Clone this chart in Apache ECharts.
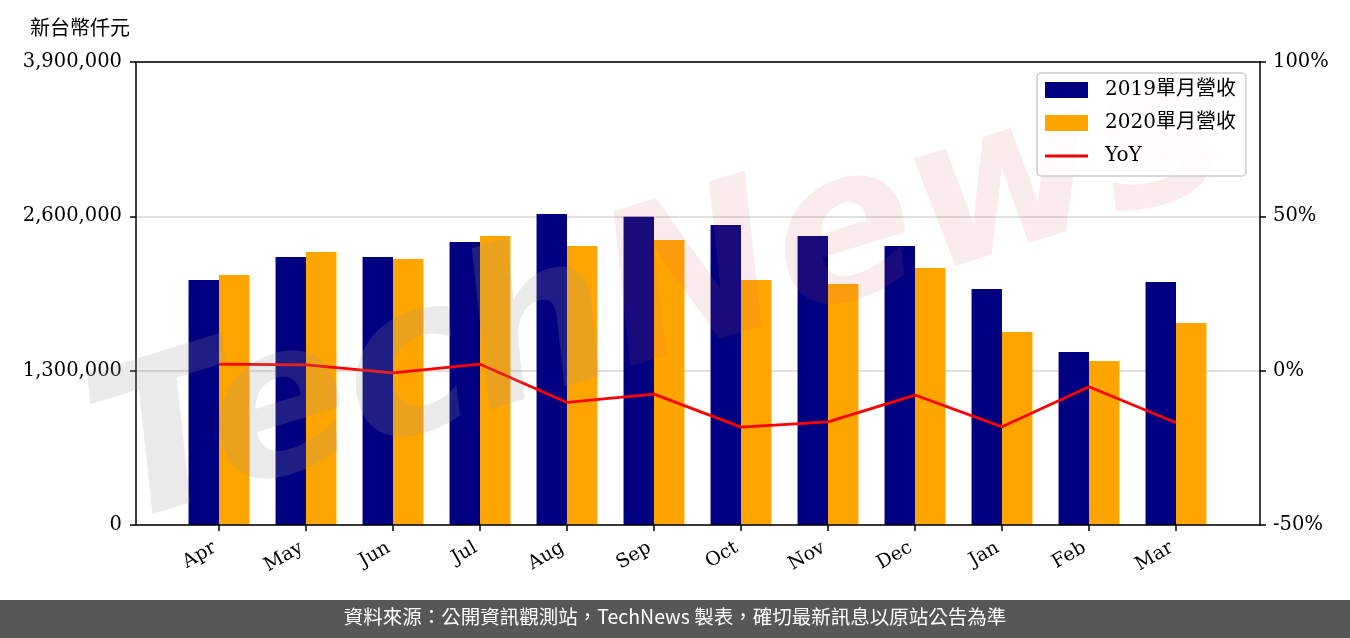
<!DOCTYPE html>
<html>
<head>
<meta charset="utf-8">
<script src="https://cdn.jsdelivr.net/npm/echarts@6/dist/echarts.min.js"></script>
<style>
html,body{margin:0;padding:0;background:#fff;}
#chart{width:1350px;height:638px;}
</style>
</head>
<body>
<div id="chart"></div>
<script>
const months = ['Apr','May','Jun','Jul','Aug','Sep','Oct','Nov','Dec','Jan','Feb','Mar'];
const revenue2019 = [2063000, 2257000, 2257000, 2384000, 2620000, 2597000, 2527000, 2434000, 2350000, 1988000, 1457000, 2047000];
const revenue2020 = [2106000, 2300000, 2240000, 2434000, 2350000, 2400000, 2064000, 2030000, 2165000, 1626000, 1381000, 1701000];
const yoy = [2.1, 1.9, -0.7, 2.1, -10.3, -7.6, -18.3, -16.6, -7.9, -18.2, -5.2, -16.9];
const leftTicks = {min: 0, max: 3900000, interval: 1300000};
const rightTicks = {min: -50, max: 100, interval: 50};

const serif = "'DejaVu Serif', 'Noto Sans CJK TC', serif";
const black = {color: '#000', width: 1.5};
const chart = echarts.init(document.getElementById('chart'), null, {renderer: 'canvas'});
chart.setOption({
  animation: false,
  backgroundColor: '#fff',
  grid: [
    {left: 136, right: 90, top: 62, bottom: 113},
    {left: 175.5, right: 130.5, top: 62, bottom: 113}
  ],
  xAxis: [
    {gridIndex: 0, type: 'value', min: 0, max: 1, position: 'bottom', z: 3,
     axisLine: {show: true, onZero: false, lineStyle: black},
     axisTick: {show: false}, axisLabel: {show: false}, splitLine: {show: false}},
    {gridIndex: 1, type: 'category', data: months,
     axisLine: {show: false},
     axisTick: {show: true, alignWithLabel: true, length: 6, lineStyle: black},
     axisLabel: {rotate: 30, fontSize: 19, fontFamily: serif, color: '#000', margin: 19, padding: [0, 5, 0, 0]}},
    {gridIndex: 0, type: 'value', min: 0, max: 1, position: 'top', z: 3,
     axisLine: {show: true, onZero: false, lineStyle: black},
     axisTick: {show: false}, axisLabel: {show: false}, splitLine: {show: false}}
  ],
  yAxis: [
    {gridIndex: 0, type: 'value', min: leftTicks.min, max: leftTicks.max, interval: leftTicks.interval,
     axisLine: {show: true, onZero: false, lineStyle: black},
     axisTick: {show: true, length: 6, lineStyle: black},
     axisLabel: {fontSize: 19.5, fontFamily: serif, color: '#000', margin: 14,
       formatter: v => v.toLocaleString('en-US')},
     splitLine: {show: true, lineStyle: {color: '#d6d6d6', width: 1.5}}},
    {gridIndex: 0, type: 'value', position: 'right', min: rightTicks.min, max: rightTicks.max, interval: rightTicks.interval,
     axisLine: {show: true, onZero: false, lineStyle: black},
     axisTick: {show: true, length: 6, lineStyle: black},
     axisLabel: {fontSize: 19.5, fontFamily: serif, color: '#000', margin: 13, formatter: v => v + '%'},
     splitLine: {show: false}},
    {gridIndex: 1, type: 'value', min: leftTicks.min, max: leftTicks.max, show: false, splitLine: {show: false}},
    {gridIndex: 1, type: 'value', min: rightTicks.min, max: rightTicks.max, show: false, splitLine: {show: false}}
  ],
  legend: {
    orient: 'vertical', left: 1037, top: 73, z: 20,
    padding: [7, 10, 10, 8],
    itemWidth: 43, itemHeight: 16, itemGap: 13,
    backgroundColor: 'rgba(255,255,255,0.85)',
    borderColor: '#cccccc', borderWidth: 1.5, borderRadius: 4,
    textStyle: {fontSize: 20, fontFamily: serif, color: '#000', padding: [0, 0, 0, 12], lineHeight: 17},
    data: [
      {name: '2019單月營收', icon: 'rect'},
      {name: '2020單月營收', icon: 'rect'},
      {name: 'YoY', icon: 'path://M0,0 L43,0 L43,3 L0,3 Z'}
    ]
  },
  graphic: [
    {type: 'text', left: 30, top: 17, style: {text: '新台幣仟元', fontSize: 20, fontFamily: "'Noto Sans CJK TC', sans-serif", fill: '#000'}},
    {type: 'text', x: 660, y: 300, rotation: 0.3, z: 10, silent: true,
     style: {text: '{t|Tech}{n|News}', align: 'center', verticalAlign: 'middle',
       fontSize: 210, fontStyle: 'italic', fontWeight: 'bold', fontFamily: "'DejaVu Sans', sans-serif",
       rich: {
         t: {fontSize: 210, fontStyle: 'italic', fontWeight: 'bold', fontFamily: "'DejaVu Sans', sans-serif", fill: 'rgba(150,150,150,0.2)'},
         n: {fontSize: 210, fontStyle: 'italic', fontWeight: 'bold', fontFamily: "'DejaVu Sans', sans-serif", fill: 'rgba(215,90,100,0.12)'}
       }}},
    {type: 'rect', left: 0, top: 600, shape: {width: 1350, height: 38}, style: {fill: '#575757'}},
    {type: 'text', left: 'center', top: 607, style: {text: '資料來源：公開資訊觀測站，TechNews 製表，確切最新訊息以原站公告為準', fontSize: 19.5, fontFamily: "'Noto Sans CJK TC', sans-serif", fill: '#fff'}}
  ],
  series: [
    {name: '2019單月營收', type: 'bar', xAxisIndex: 1, yAxisIndex: 2, data: revenue2019,
     barWidth: 30.45, barGap: '0%', itemStyle: {color: '#000080'}},
    {name: '2020單月營收', type: 'bar', xAxisIndex: 1, yAxisIndex: 2, data: revenue2020,
     barWidth: 30.45, barGap: '0%', itemStyle: {color: '#FFA500'}},
    {name: 'YoY', type: 'line', xAxisIndex: 1, yAxisIndex: 3, data: yoy,
     symbol: 'none', lineStyle: {color: '#FF0000', width: 2.8}, itemStyle: {color: '#FF0000'}, z: 5}
  ]
});
</script>
</body>
</html>
